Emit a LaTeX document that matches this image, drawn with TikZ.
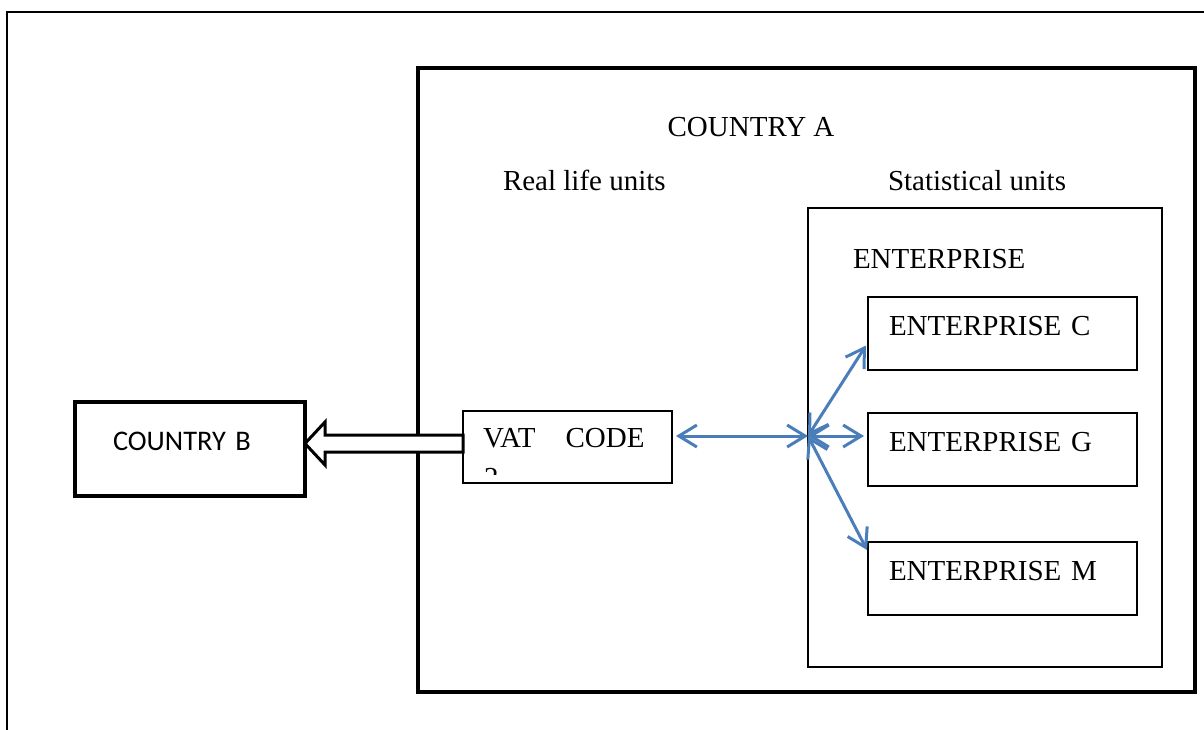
\documentclass[tikz,border=0pt]{standalone}
\usepackage{fontspec}
\setmainfont{Liberation Serif}
\newfontfamily\carlito{Carlito}
\usetikzlibrary{arrows.meta,calc}
\definecolor{linkblue}{RGB}{74,126,187}
\begin{document}
\begin{tikzpicture}[x=0.5pt, y=-0.5pt,
    every node/.style={font=\fontsize{14.5}{17}\selectfont, inner sep=0pt, outer sep=0pt},
    unitbox/.style={draw, line width=0.8pt, anchor=north west, align=left, inner xsep=10.5pt, text width=113.5pt, text height=19pt, text depth=17.5pt},
    link/.style={draw=linkblue, line width=1.5pt, {Straight Barb[length=9pt,width=11pt]}-{Straight Barb[length=9pt,width=11pt]}}]
    \useasboundingbox (0,0) rectangle (1204,729);
    \clip (0,0) rectangle (1204,729);
    \draw[line width=1pt] (1210,12) -- (7,12) -- (7,735);
    \node[draw, line width=2pt, minimum width=388.5pt, minimum height=312pt, anchor=north west] (ca) at (418,68) {};
    \node[anchor=base] (catitle) at (751,136) {COUNTRY A};
    \node[anchor=base west] (real) at (503,190) {Real life units};
    \node[anchor=base west] (stat) at (888,190) {Statistical units};
    \node[draw, line width=0.8pt, minimum width=177pt, minimum height=229.5pt, anchor=north west] (ent) at (808,208) {};
    \node[anchor=base west] (enttitle) at (853,268) {ENTERPRISE};
    \node[unitbox] (ec) at (868,297) {ENTERPRISE C};
    \node[unitbox] (eg) at (868,413) {ENTERPRISE G};
    \node[unitbox] (em) at (868,542) {ENTERPRISE M};
    \node[draw, line width=2pt, anchor=north west, font=\carlito\fontsize{14.2}{17}\selectfont, align=left, inner xsep=19pt, text width=77pt, text height=24pt, text depth=23pt] (cb) at (75,402) {COUNTRY B};
    \node[unitbox, inner xsep=10pt, text width=84.5pt, text height=18pt, text depth=18pt] (vat) at (463,411) {\mbox{VAT\hspace{15pt}CODE}};
    \draw[line width=1.5pt, fill=white] ($(vat.west)+(0,-12)$) -- (325,435) -- (325,422) -- ($(cb.east)+(0,-5.5)$) -- (325,465) -- (325,452) -- ($(vat.west)+(0,5)$) -- cycle;
    \begin{scope}
        \clip (vat.north west) rectangle ($(vat.south east)+(0,-9)$);
        \node[anchor=base west] (vattwo) at (484,487) {2};
    \end{scope}
    \coordinate (hub) at (808,436);
    \draw[link, shorten <=2pt] (vat.east |- hub) -- (hub);
    \draw[link] (hub) -- ($(ec.west)+(-2,12)$);
    \draw[link] (hub) -- ($(eg.west |- hub)+(-4,0)$);
    \draw[link] (hub) -- ($(em.north west)+(-1,8)$);
\end{tikzpicture}
\end{document}
